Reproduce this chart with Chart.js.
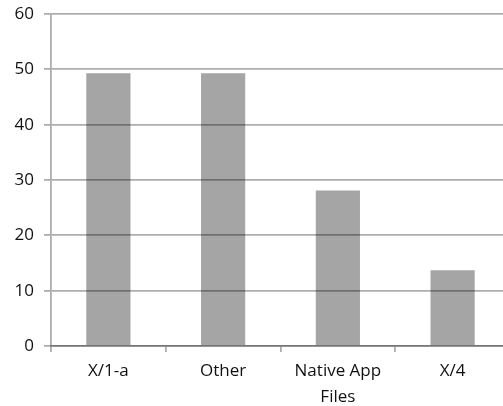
<!DOCTYPE html>
<html>
<head>
<meta charset="utf-8">
<script src="https://cdn.jsdelivr.net/npm/chart.js@4/dist/chart.umd.min.js"></script>
<style>
  html, body { margin: 0; padding: 0; background: #fff; overflow: hidden; }
  #wrap { position: relative; width: 510px; height: 406px; }
</style>
</head>
<body>
<div id="wrap"><canvas id="c" width="510" height="406"></canvas></div>
<script>
// Categories and their counts
const categories = ["X/1-a", "Other", ["Native App", "Files"], "X/4"];
const counts = [49.3, 49.3, 28.1, 13.7];
const yTicks = [0, 10, 20, 30, 40, 50, 60];

const xFont = { family: "'Open Sans', sans-serif", size: 17, lineHeight: 1.55 };
const yFont = { family: "'Open Sans', sans-serif", size: 17, lineHeight: 1.0 };

new Chart(document.getElementById('c'), {
  type: 'bar',
  data: {
    labels: categories,
    datasets: [{
      data: counts,
      backgroundColor: '#a5a5a5',
      borderWidth: 0,
      categoryPercentage: 1,
      barPercentage: 0.385
    }]
  },
  options: {
    responsive: false,
    animation: false,
    events: [],
    layout: { padding: { top: 0, left: 0, right: 0, bottom: 0 } },
    plugins: { legend: { display: false }, tooltip: { enabled: false } },
    scales: {
      y: {
        min: 0,
        max: 60,
        afterBuildTicks: (s) => { s.ticks = yTicks.map(v => ({ value: v })); },
        afterFit: (s) => { s.width = 51; s.paddingTop = 14; },
        ticks: { color: '#111', font: yFont, padding: 10 },
        grid: { color: 'rgba(0,0,0,0.32)', lineWidth: 1.8, tickLength: 7, z: 1 },
        border: { color: 'rgba(0,0,0,0.32)', width: 1.8, z: 1 }
      },
      x: {
        afterFit: (s) => { s.height = 60; },
        ticks: { color: '#111', font: xFont, padding: 6, maxRotation: 0 },
        grid: { drawOnChartArea: false, color: 'rgba(0,0,0,0.32)', lineWidth: 1.8, tickLength: 6, offset: true },
        border: { color: 'rgba(0,0,0,0.32)', width: 1.8, z: 1 }
      }
    }
  }
});
</script>
</body>
</html>
